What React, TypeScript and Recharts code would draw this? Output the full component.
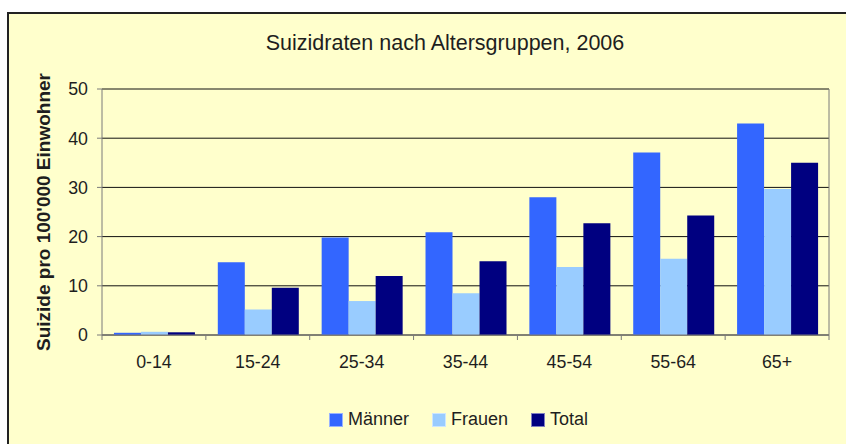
import React from 'react';
import { BarChart, Bar, XAxis, YAxis, CartesianGrid, Legend } from 'recharts';

const categories = ['0-14', '15-24', '25-34', '35-44', '45-54', '55-64', '65+'];
const maenner = [0.45, 14.8, 19.8, 20.9, 28.0, 37.1, 43.0];
const frauen = [0.65, 5.2, 6.9, 8.5, 13.8, 15.5, 29.7];
const total = [0.55, 9.6, 12.0, 15.0, 22.7, 24.3, 35.0];
const yTicks = [0, 10, 20, 30, 40, 50];
const seriesNames = ['Männer', 'Frauen', 'Total'];
const seriesColors = ['#3366FF', '#99CCFF', '#000080'];
const title = 'Suizidraten nach Altersgruppen, 2006';
const yLabel = "Suizide pro 100'000 Einwohner";

const data = categories.map((c, i) => ({
  cat: c,
  Männer: maenner[i],
  Frauen: frauen[i],
  Total: total[i],
}));

const W = 846;
const H = 444;
const LEFT = 102;
const RIGHT = 17;
const TOP = 89;
const XH = 109;
const FONT = '"Liberation Sans", Arial, sans-serif';
const TXT = '#1e1e1e';
const AXIS = '#7a7a7a';
const BAND = (W - LEFT - RIGHT) / categories.length;

function XTick(props: any) {
  const { x, y, payload, index } = props;
  return (
    <g>
      <line x1={x - BAND / 2} x2={x - BAND / 2} y1={y} y2={y + 5} stroke={AXIS} />
      {index === categories.length - 1 && (
        <line x1={x + BAND / 2} x2={x + BAND / 2} y1={y} y2={y + 5} stroke={AXIS} />
      )}
      <text
        x={x}
        y={y + 27}
        textAnchor="middle"
        dominantBaseline="central"
        fontFamily={FONT}
        fontSize={17.8}
        fill={TXT}
      >
        {payload.value}
      </text>
    </g>
  );
}

function LegendContent() {
  return (
    <div style={{ display: 'flex', alignItems: 'center', fontFamily: FONT, fontSize: 18, color: TXT, whiteSpace: 'nowrap' }}>
      {seriesNames.map((n, i) => (
        <div key={n} style={{ display: 'flex', alignItems: 'center', marginRight: 23 }}>
          <span
            style={{
              display: 'inline-block',
              width: 12,
              height: 12,
              background: seriesColors[i],
              border: '1px solid rgba(255,255,255,0.5)',
              marginRight: 5,
            }}
          />
          <span>{n}</span>
        </div>
      ))}
    </div>
  );
}

export default function App() {
  return (
    <div style={{ position: 'absolute', left: 0, top: 0, width: W, height: H, overflow: 'hidden', background: '#fff' }}>
      <div
        style={{
          position: 'absolute',
          left: 7,
          top: 12,
          width: 900,
          height: 500,
          border: '2px solid #222',
          background: '#FFFFCC',
        }}
      />
      <div
        style={{
          position: 'absolute',
          left: 0,
          top: 33,
          width: 890,
          textAlign: 'center',
          fontFamily: FONT,
          fontSize: 21.5,
          lineHeight: '21px',
          color: TXT,
        }}
      >
        {title}
      </div>
      <div style={{ position: 'absolute', left: 0, top: 0 }}>
        <BarChart
          width={W}
          height={H}
          data={data}
          margin={{ top: TOP, right: 0, left: 0, bottom: 0 }}
          barCategoryGap="11.5%"
          barGap={0}
        >
          <CartesianGrid vertical={false} stroke="#111" strokeWidth={1} yAxisId="left" />
          <XAxis
            dataKey="cat"
            height={XH}
            tickSize={0}
            tickMargin={0}
            tickLine={false}
            axisLine={{ stroke: AXIS }}
            tick={<XTick />}
            interval={0}
          />
          <YAxis
            yAxisId="left"
            width={LEFT}
            domain={[0, 50]}
            ticks={yTicks}
            tickSize={5}
            tickMargin={9}
            tickLine={{ stroke: AXIS }}
            axisLine={{ stroke: AXIS }}
            tick={{ fontFamily: FONT, fontSize: 17.8, fill: TXT }}
            label={{
              content: (p: any) => {
                const vb = p.viewBox;
                const cy = vb.y + vb.height / 2;
                const cx = 43;
                return (
                  <text
                    x={cx}
                    y={cy}
                    transform={`rotate(-90 ${cx} ${cy})`}
                    textAnchor="middle"
                    dominantBaseline="central"
                    fontFamily={FONT}
                    fontWeight="bold"
                    fontSize={19}
                    fill={TXT}
                  >
                    {yLabel}
                  </text>
                );
              },
            }}
          />
          <YAxis
            yAxisId="right"
            orientation="right"
            width={RIGHT}
            domain={[0, 50]}
            ticks={yTicks}
            tick={false}
            tickLine={false}
            axisLine={{ stroke: AXIS }}
          />
          <Legend
            layout="horizontal"
            verticalAlign="middle"
            align="center"
            wrapperStyle={{ top: 409, left: 329, width: 'auto' }}
            content={<LegendContent />}
          />
          {seriesNames.map((n, i) => (
            <Bar key={n} yAxisId="left" dataKey={n} fill={seriesColors[i]} isAnimationActive={false} />
          ))}
        </BarChart>
      </div>
    </div>
  );
}
